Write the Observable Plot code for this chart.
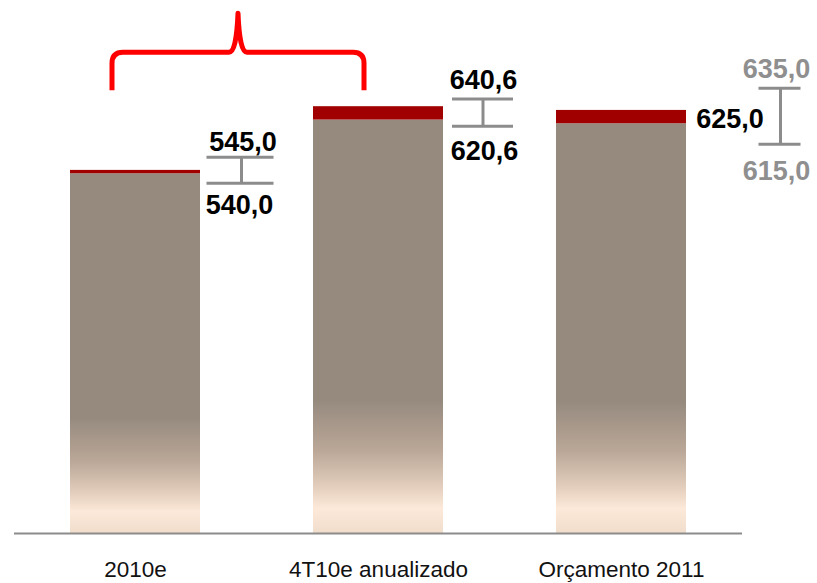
<!DOCTYPE html>
<html>
<head>
<meta charset="utf-8">
<script src="https://cdn.jsdelivr.net/npm/d3@7"></script>
<script src="https://cdn.jsdelivr.net/npm/@observablehq/plot@0.6"></script>
<style>
  html, body { margin: 0; padding: 0; background: #fff; }
  #chart svg { display: block; overflow: visible; }
</style>
</head>
<body>
<div id="chart"></div>
<script>
// ---- data ----
const categories = ["2010e", "4T10e anualizado", "Orçamento 2011"];
const baseValues = [540.0, 620.6, 615.0];   // top of the grey/gradient bar (range low)
const topValues  = [545.0, 640.6, 635.0];   // top of the red segment (range high)
const centerValues = [null, null, 625.0];   // central estimate label (only budget)

// ---- styles / layout offsets (pixels) ----
const rangeLabelColor = ["#000000", "#000000", "#8f8f8f"];
const labelDx = [[107.5, 104], [105, 106], [155, 155]];   // [upper, lower] from band centre
const labelDy = [[-28, 32], [-26, 31], [-41, 48]];        // from value position
const centerLabelDx = 108.5, centerLabelDy = 2;
const markerDx = [106.5, 105, 159.5];        // vertical stem from band centre
const markerLineCx = [105, 104.5, 158.5];    // horizontal caps centre
const markerHalf = [33.5, 30.5, 21];          // half length of caps
const markerDy = [[-12.6, 10], [-7.3, 6.7], [-21.7, 21]]; // caps from value positions
const braceDx = [-23, -14];                  // brace ends from band centres of bars 1,2
const braceDy = [-16, -54, -93];             // ends, shoulder, peak from tallest bar top
const gradStops = [
  [0, "#968a7f"], [0.68, "#968a7f"], [0.8, "#baa797"],
  [0.89, "#e4cfbe"], [0.94, "#fde9d9"], [1, "#f0ddcc"]
];

const fmt = v => v.toFixed(1).replace(".", ",");
const rows = categories.map((c, i) => ({
  cat: c, base: baseValues[i], top: topValues[i], center: centerValues[i]
}));

function decorations(index, scales) {
  const {x, y} = scales;
  const bw = x.bandwidth ? x.bandwidth() : 0;
  const cx = c => x(c) + bw / 2;
  const g = d3.create("svg:g");
  const grad = g.append("defs").append("linearGradient")
    .attr("id", "barGrad").attr("x1", 0).attr("y1", 0).attr("x2", 0).attr("y2", 1);
  gradStops.forEach(([o, c]) => grad.append("stop").attr("offset", o).attr("stop-color", c));

  // range markers
  rows.forEach((d, i) => {
    const c = cx(d.cat);
    const yTop = y(d.top) + markerDy[i][0];
    const yBot = y(d.base) + markerDy[i][1];
    const hx = c + markerLineCx[i];
    const m = g.append("g").attr("stroke", "#8c8c8c").attr("stroke-width", 3);
    m.append("line").attr("x1", hx - markerHalf[i]).attr("x2", hx + markerHalf[i]).attr("y1", yTop).attr("y2", yTop);
    m.append("line").attr("x1", hx - markerHalf[i]).attr("x2", hx + markerHalf[i]).attr("y1", yBot).attr("y2", yBot);
    m.append("line").attr("x1", c + markerDx[i]).attr("x2", c + markerDx[i]).attr("y1", yTop).attr("y2", yBot);
  });

  // curly brace over first two bars
  const L = cx(rows[0].cat) + braceDx[0];
  const R = cx(rows[1].cat) + braceDx[1];
  const M = (L + R) / 2;
  const y0 = y(d3.max(rows.slice(0, 2), d => d.top));
  const e = y0 + braceDy[0], s = y0 + braceDy[1], p = y0 + braceDy[2];
  const path = [
    `M${L},${e}`, `L${L},${s + 11}`, `Q${L},${s} ${L + 11},${s}`,
    `L${M - 9},${s}`, `Q${M - 1.5},${s} ${M},${p}`,
    `Q${M + 1.5},${s} ${M + 9},${s}`,
    `L${R - 11},${s}`, `Q${R},${s} ${R},${s + 11}`, `L${R},${e}`
  ].join(" ");
  g.append("path").attr("d", path).attr("fill", "none").attr("stroke", "#ff0000")
    .attr("stroke-width", 5).attr("stroke-linejoin", "round").attr("stroke-linecap", "butt");
  return g.node();
}

const valueLabelStyle = {fontSize: 27, fontWeight: "bold"};

const marks = [
  Plot.barY(rows, {x: "cat", y1: 0, y2: "base", fill: "url(#barGrad)"}),
  Plot.barY(rows, {x: "cat", y1: "base", y2: "top", fill: "#a00000"}),
  Plot.ruleY([0], {stroke: "#8c8c8c", strokeWidth: 2}),
  Plot.text(rows, {x: "cat", frameAnchor: "bottom", text: "cat", dy: 43, fontSize: 22.5, fill: "#111"}),
  ...rows.flatMap((d, i) => [
    Plot.text([d], {x: "cat", y: "top", text: r => fmt(r.top), dx: labelDx[i][0], dy: labelDy[i][0], fill: rangeLabelColor[i], ...valueLabelStyle}),
    Plot.text([d], {x: "cat", y: "base", text: r => fmt(r.base), dx: labelDx[i][1], dy: labelDy[i][1], fill: rangeLabelColor[i], ...valueLabelStyle})
  ]),
  Plot.text(rows.filter(d => d.center != null), {x: "cat", y: "center", text: r => fmt(r.center), dx: centerLabelDx, dy: centerLabelDy, fill: "#000", ...valueLabelStyle}),
  decorations
];

const chart = Plot.plot({
  width: 817,
  height: 583,
  marginTop: 0,
  marginBottom: 50,
  marginLeft: 14,
  marginRight: 75,
  style: {fontFamily: "'Liberation Sans', Arial, sans-serif", background: "#fff", overflow: "visible"},
  x: {domain: categories, paddingInner: 0.466, paddingOuter: 0.228, axis: null},
  y: {domain: [0, 800], axis: null},
  marks
});
document.getElementById("chart").appendChild(chart);
</script>
</body>
</html>
